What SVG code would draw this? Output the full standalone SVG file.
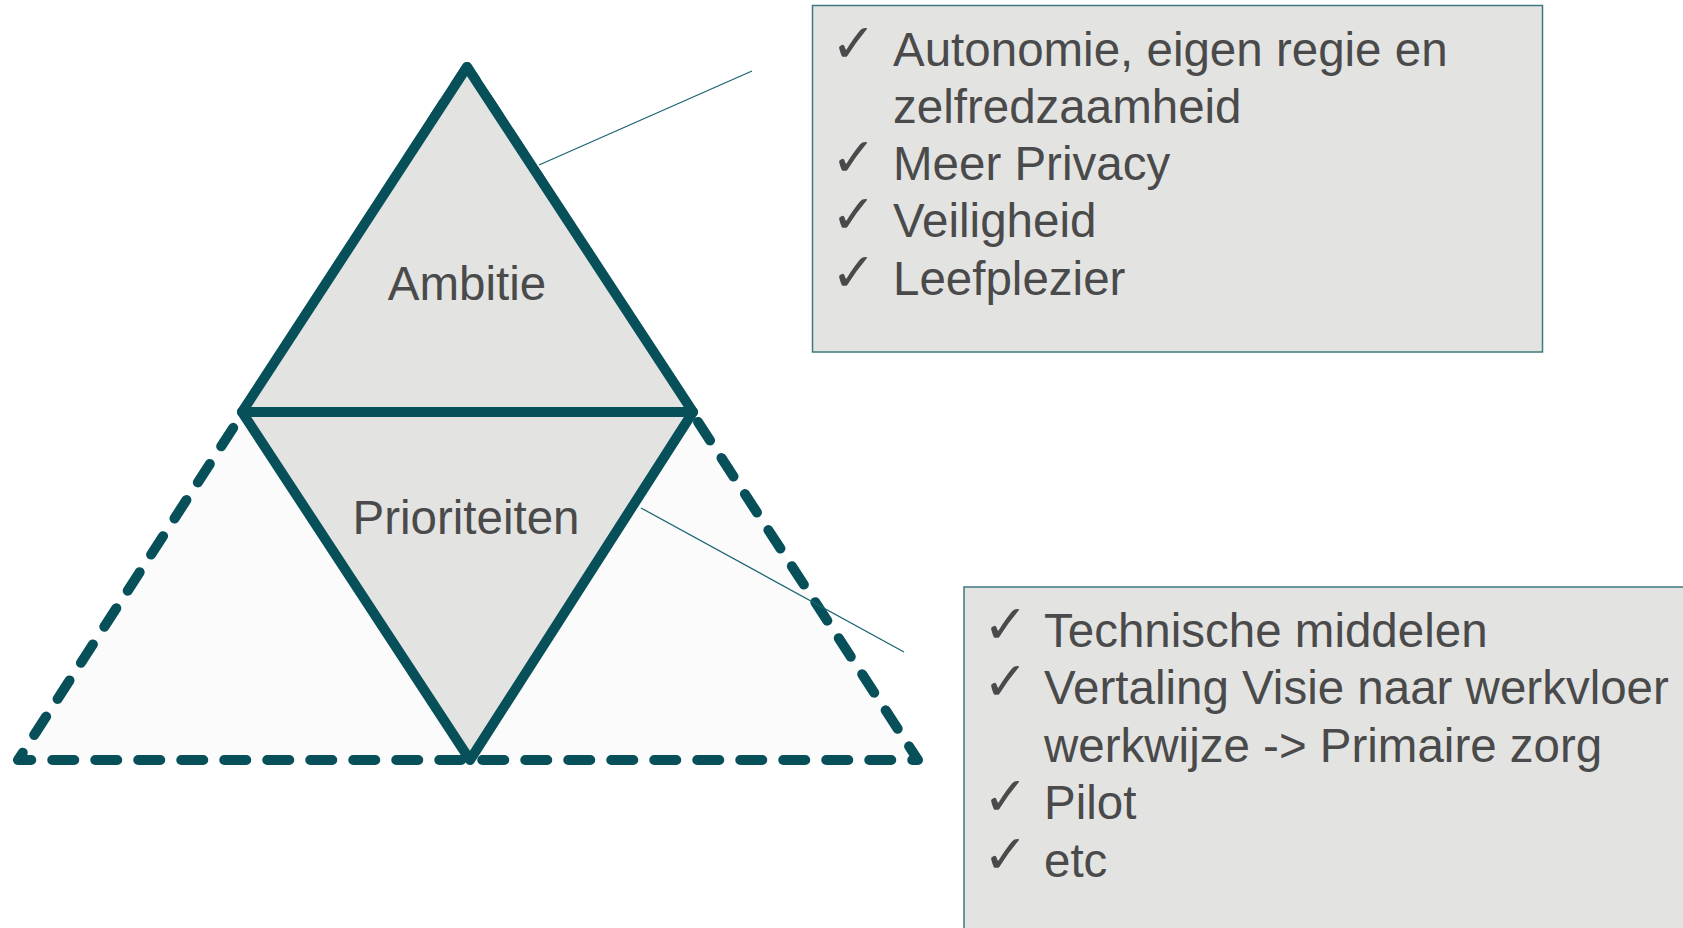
<svg xmlns="http://www.w3.org/2000/svg" width="1683" height="928" viewBox="0 0 1683 928">
<style>
.lbl{font-family:"Liberation Sans",Arial,sans-serif;font-size:47.5px;fill:#4a4a4a}
.chk{font-family:"DejaVu Sans",sans-serif;font-size:54px;fill:#4a4a4a}
.tri{fill:#e3e3e2;stroke:#07505a;stroke-width:10;stroke-linejoin:round;stroke-linecap:round}
.box{fill:#e3e3e2;stroke:#3e7881;stroke-width:1.5}
.con{fill:none;stroke:#1d6570;stroke-width:1.3}
</style>
<rect width="1683" height="928" fill="#ffffff"/>
<g id="base">
<polygon points="467,67 18,760 918,760" fill="#fbfbfb" stroke="#07505a" stroke-width="10" stroke-dasharray="22 21" stroke-linecap="round" stroke-linejoin="round"/>
</g>
<g id="prioriteiten">
<polygon class="tri" points="242,412 693,412 470,760"/>
<text class="lbl" x="466" y="534" text-anchor="middle">Prioriteiten</text>
</g>
<g id="ambitie">
<polygon class="tri" points="467,67 242,412 693,412"/>
<text class="lbl" x="467" y="300" text-anchor="middle">Ambitie</text>
</g>
<g id="connectors">
<line class="con" x1="539" y1="165" x2="752" y2="71"/>
<line class="con" x1="641" y1="508" x2="904" y2="652"/>
</g>
<g id="box-ambitie">
<rect class="box" x="812.5" y="5.5" width="730" height="346.5"/>
<text class="chk" x="831" y="62">✓</text>
<text class="lbl" x="893" y="66">Autonomie, eigen regie en</text>
<text class="lbl" x="893" y="123">zelfredzaamheid</text>
<text class="chk" x="831" y="176">✓</text>
<text class="lbl" x="893" y="180">Meer Privacy</text>
<text class="chk" x="831" y="233">✓</text>
<text class="lbl" x="893" y="237">Veiligheid</text>
<text class="chk" x="831" y="291">✓</text>
<text class="lbl" x="893" y="295">Leefplezier</text>
</g>
<g id="box-prioriteiten">
<rect class="box" x="964" y="587" width="740" height="360"/>
<text class="chk" x="983" y="643">✓</text>
<text class="lbl" x="1044" y="647">Technische middelen</text>
<text class="chk" x="983" y="700">✓</text>
<text class="lbl" x="1044" y="704">Vertaling Visie naar werkvloer</text>
<text class="lbl" x="1044" y="762">werkwijze -&gt; Primaire zorg</text>
<text class="chk" x="983" y="815">✓</text>
<text class="lbl" x="1044" y="819">Pilot</text>
<text class="chk" x="983" y="873">✓</text>
<text class="lbl" x="1044" y="877">etc</text>
</g>
</svg>
